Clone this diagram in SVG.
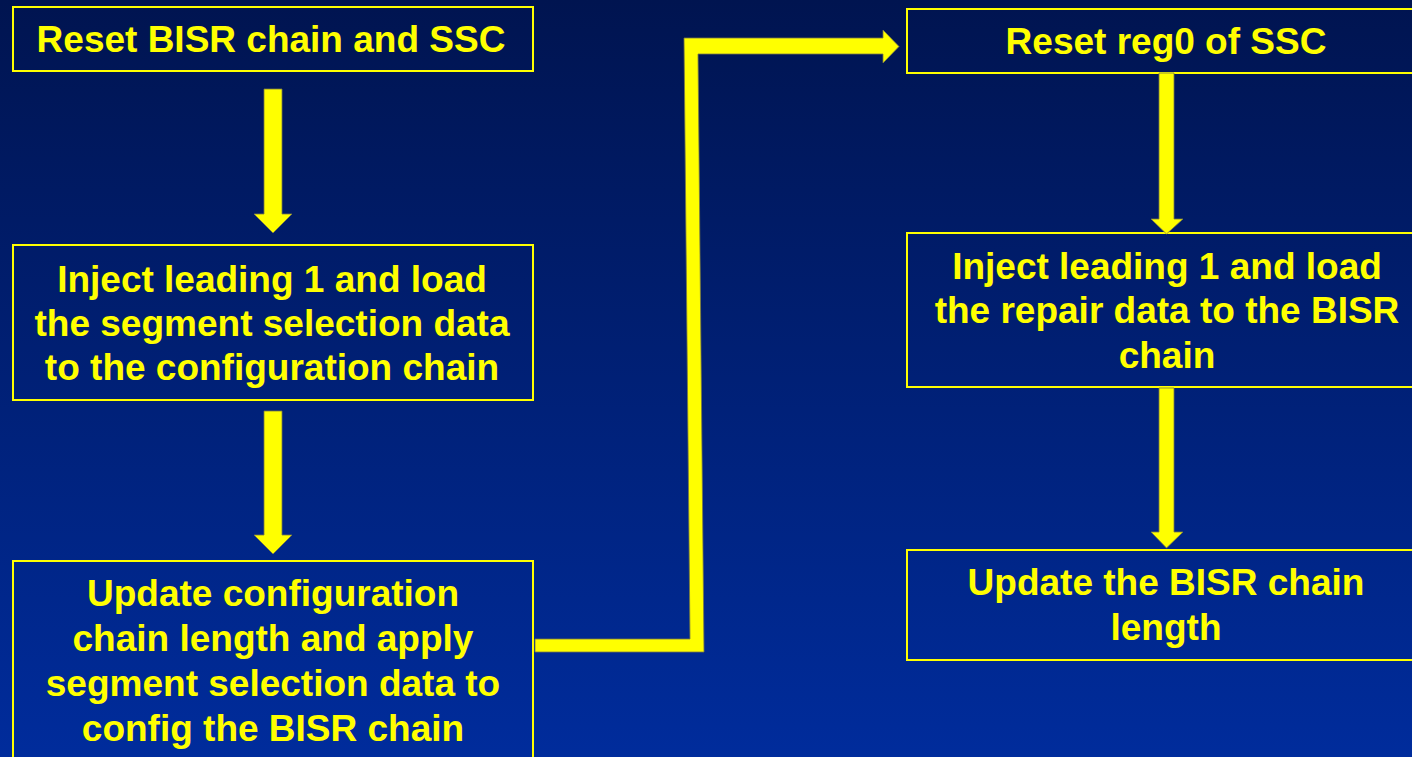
<svg xmlns="http://www.w3.org/2000/svg" width="1412" height="757" viewBox="0 0 1412 757">
<defs>
<linearGradient id="bg" x1="0" y1="0" x2="0" y2="1">
<stop offset="0" stop-color="#001450"/>
<stop offset="1" stop-color="#002C9C"/>
</linearGradient>
</defs>
<style>
.box{fill:none;stroke:#FFFF00;stroke-width:2}
.t{font-family:"Liberation Sans",Arial,sans-serif;font-weight:bold;font-size:37px;fill:#FFFF00;text-anchor:middle}
.arr{fill:#FFFF00;stroke:#7a7a45;stroke-width:0.8}
</style>
<rect width="1412" height="757" fill="url(#bg)"/>
<g id="n1"><rect class="box" x="13" y="7" width="520" height="64"/><text class="t" x="271" y="52">Reset BISR chain and SSC</text></g>
<g id="n2"><rect class="box" x="13" y="245" width="520" height="155"/>
<text class="t" x="272" y="292">Inject leading 1 and load</text>
<text class="t" x="272" y="336">the segment selection data</text>
<text class="t" x="272" y="380">to the configuration chain</text></g>
<g id="n3"><rect class="box" x="13" y="561" width="520" height="210"/>
<text class="t" x="273" y="606">Update configuration</text>
<text class="t" x="273" y="651">chain length and apply</text>
<text class="t" x="273" y="696">segment selection data to</text>
<text class="t" x="273" y="741">config the BISR chain</text></g>
<g id="n4"><rect class="box" x="907" y="9" width="518" height="64"/><text class="t" x="1166" y="54">Reset reg0 of SSC</text></g>
<g id="n5"><rect class="box" x="907" y="233" width="518" height="154"/>
<text class="t" x="1167" y="279">Inject leading 1 and load</text>
<text class="t" x="1167" y="323">the repair data to the BISR</text>
<text class="t" x="1167" y="368">chain</text></g>
<g id="n6"><rect class="box" x="907" y="550" width="518" height="110"/>
<text class="t" x="1166" y="595">Update the BISR chain</text>
<text class="t" x="1166" y="640">length</text></g>
<g id="connectors">
<polygon class="arr" points="264,89 282,89 282,214 292,214 273,233 254,214 264,214"/>
<polygon class="arr" points="264,411 282,411 282,535 292,535 273,554 254,535 264,535"/>
<polygon class="arr" points="535,639 690,639 684,38 883,38 883,30 899,46.5 883,63 883,54 698,54 704,652 535,652"/>
<polygon class="arr" points="1159,73 1174,73 1174,219 1183,219 1166.5,234 1151,219 1159,219"/>
<polygon class="arr" points="1159,388 1174,388 1174,532 1183,532 1166.5,548 1151,532 1159,532"/>
</g>
</svg>
